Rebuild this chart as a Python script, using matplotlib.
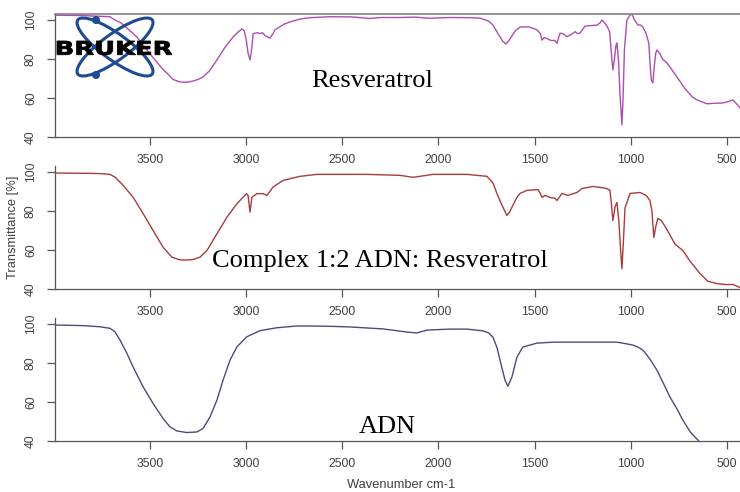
import matplotlib.pyplot as plt
from matplotlib.patches import Ellipse, Circle, PathPatch
from matplotlib.textpath import TextPath
from matplotlib.font_manager import FontProperties
from matplotlib.transforms import Affine2D

# FTIR spectra: wavenumber (cm-1) and transmittance (%)
resv_wn = [3994, 3850, 3708, 3682, 3650, 3620, 3568, 3516, 3474, 3440, 3412, 3380, 3344, 3310,
           3276, 3250, 3224, 3190, 3152, 3110, 3068, 3040, 3022, 3010, 3000, 2990, 2980, 2970,
           2964, 2940, 2928, 2915, 2902, 2876, 2860, 2850, 2800, 2772, 2720, 2668, 2564, 2450,
           2356, 2300, 2200, 2120, 2050, 1940, 1850, 1784, 1740, 1717, 1690, 1665, 1649, 1630,
           1600, 1576, 1530, 1488, 1470, 1462, 1450, 1436, 1420, 1410, 1395, 1384, 1368, 1350,
           1332, 1310, 1290, 1275, 1264, 1238, 1200, 1176, 1160, 1150, 1140, 1124, 1110, 1100,
           1093, 1085, 1077, 1072, 1064, 1056, 1046, 1040, 1033, 1020, 1005, 994, 980, 963,
           950, 937, 920, 906, 900, 893, 885, 877, 870, 864, 850, 835, 812, 790, 760, 720,
           680, 656, 630, 604, 560, 521, 490, 469, 450, 432]
resv_t = [102.5, 102.3, 101.7, 100.0, 98.5, 95.9, 91.3, 84.6, 79.5, 75.5, 72.8, 69.5, 68.2, 68.0,
          68.7, 69.5, 70.8, 74.0, 79.5, 86.0, 91.3, 94.0, 95.4, 94.5, 90.0, 83.0, 79.5, 86.0,
          93.0, 93.5, 93.0, 93.5, 92.0, 90.7, 93.0, 95.0, 98.0, 99.0, 100.5, 101.2, 101.7, 101.6,
          100.8, 101.3, 101.3, 101.5, 100.9, 101.3, 101.2, 101.0, 99.5, 97.5, 93.0, 89.0, 87.7, 90.0,
          94.5, 96.4, 96.5, 95.0, 93.0, 89.7, 91.0, 90.5, 89.7, 89.5, 89.5, 88.0, 93.3, 92.8,
          91.5, 92.5, 94.0, 93.0, 93.3, 96.9, 97.2, 97.4, 98.5, 100.0, 99.0, 96.9, 94.0, 82.0,
          74.4, 80.0, 87.0, 88.2, 80.0, 62.0, 46.2, 60.0, 85.0, 100.0, 102.5, 103.0, 100.0, 97.4,
          97.5, 96.4, 93.0, 88.0, 78.0, 69.0, 67.7, 77.0, 83.0, 84.6, 83.0, 80.0, 78.0, 75.0, 70.8, 65.0,
          60.5, 59.0, 58.0, 57.0, 57.3, 57.4, 58.2, 59.0, 57.0, 55.0]

cplx_wn = [3994, 3900, 3800, 3760, 3708, 3682, 3640, 3588, 3536, 3484, 3432, 3386, 3344, 3310,
           3276, 3240, 3204, 3152, 3100, 3048, 3016, 2998, 2990, 2980, 2970, 2944, 2912, 2892,
           2860, 2808, 2720, 2632, 2549, 2372, 2200, 2133, 2096, 2029, 1852, 1748, 1717, 1696,
           1670, 1644, 1630, 1613, 1592, 1576, 1540, 1483, 1470, 1462, 1446, 1420, 1394, 1384,
           1358, 1327, 1280, 1254, 1197, 1150, 1124, 1108, 1100, 1093, 1082, 1072, 1062, 1053,
           1046, 1038, 1030, 1004, 952, 920, 900, 890, 880, 870, 859, 840, 812, 770, 729, 690,
           640, 600, 552, 500, 469, 450, 432]
cplx_t = [99.5, 99.4, 99.3, 99.2, 98.8, 97.4, 93.2, 87.1, 78.7, 70.0, 61.4, 56.3, 54.9, 54.8,
          55.1, 56.3, 59.7, 68.3, 76.8, 83.7, 87.1, 88.9, 88.0, 79.4, 87.1, 88.9, 88.9, 88.0,
          92.3, 95.7, 97.8, 98.8, 98.8, 98.8, 98.3, 97.3, 97.8, 98.8, 98.8, 97.8, 94.5, 89.0,
          83.0, 77.7, 79.5, 82.9, 87.0, 89.0, 90.6, 91.0, 89.0, 87.0, 88.0, 87.0, 86.5, 85.4,
          89.0, 88.0, 89.5, 91.5, 92.6, 92.0, 91.5, 90.6, 83.0, 75.1, 82.0, 84.4, 75.0, 60.0,
          50.4, 65.0, 81.5, 89.0, 89.5, 88.0, 85.4, 80.0, 66.4, 72.0, 76.2, 75.0, 70.5, 63.0, 59.7, 54.0,
          47.9, 44.0, 42.7, 42.2, 42.3, 41.5, 40.7]

adn_wn = [3994, 3850, 3760, 3708, 3682, 3656, 3620, 3588, 3536, 3484, 3432, 3396, 3360, 3308,
          3256, 3224, 3188, 3152, 3120, 3084, 3048, 2996, 2928, 2840, 2736, 2668, 2550, 2460,
          2289, 2164, 2112, 2060, 1940, 1852, 1769, 1740, 1717, 1696, 1680, 1654, 1639, 1618,
          1592, 1561, 1488, 1400, 1072, 1020, 989, 960, 937, 900, 864, 830, 796, 760, 729,
          690, 640]
adn_t = [99.5, 99.2, 98.6, 97.8, 96.0, 91.8, 84.9, 78.0, 67.8, 59.2, 51.5, 47.2, 45.1, 44.3,
         44.6, 46.4, 52.3, 60.9, 71.2, 81.5, 88.3, 93.5, 96.6, 98.1, 99.0, 99.0, 98.8, 98.5,
         97.5, 95.9, 95.4, 96.9, 97.4, 97.4, 96.5, 95.5, 93.3, 88.0, 81.5, 71.2, 68.1, 72.8,
         83.0, 88.2, 90.2, 90.7, 90.7, 89.8, 89.2, 88.0, 86.6, 82.0, 76.3, 69.5, 62.5, 56.5, 50.6,
         44.5, 39.3]

spectra = [
    (resv_wn, resv_t, '#ad4db3', 'Resveratrol', 87),
    (cplx_wn, cplx_t, '#a83c3c', 'Complex 1:2 ADN: Resveratrol', 267),
    (adn_wn, adn_t, '#4c4c7c', 'ADN', 433),
]
label_x = [372, 380, 387]

W, H = 740, 492
fig = plt.figure(figsize=(W / 100, H / 100), dpi=100)

panel_tops = [14, 166, 318]
panel_h = 123.3

for i, (wn, t, col, name, base_y) in enumerate(spectra):
    top = panel_tops[i]
    ax = fig.add_axes([55 / W, 1 - (top + panel_h) / H, (W - 55) / W, panel_h / H])
    ax.plot(wn, t, color=col, lw=1.0)
    ax.set_xlim(3994, 432)
    ax.set_ylim(39.8, 103.1)
    ax.set_xticks([3500, 3000, 2500, 2000, 1500, 1000, 500])
    ax.set_yticks([40, 60, 80, 100])
    ax.tick_params(axis='both', direction='out', length=6, width=0.9, color='#555555',
                   labelsize=8.8, labelcolor='#404040')
    ax.tick_params(axis='x', pad=6)
    ax.tick_params(axis='y', pad=7)
    for lab in ax.get_yticklabels():
        lab.set_rotation(90)
        lab.set_va('center')
        lab.set_family('Liberation Sans')
    for lab in ax.get_xticklabels():
        lab.set_family('Liberation Sans')
    ax.spines['right'].set_visible(False)
    if i == 0:
        ax.spines['top'].set_color('#808080')
        ax.spines['top'].set_linewidth(1.2)
    else:
        ax.spines['top'].set_visible(False)
    for s in ('left', 'bottom'):
        ax.spines[s].set_color('#555555')
        ax.spines[s].set_linewidth(0.9)
    fig.text(label_x[i] / W, 1 - base_y / H, name, family='Liberation Serif', size=19,
             ha='center', va='baseline', color='black')

fig.text(401 / W, 1 - 485 / H, 'Wavenumber cm-1', ha='center', va='center',
         family='Liberation Sans', size=9.3, color='#404040')
fig.text(13 / W, 1 - 227 / H, 'Transmittance [%]', ha='center', va='center', rotation=90,
         family='Liberation Sans', size=9.3, color='#404040')

# Bruker logo (pixel units inside a small overlay axes)
lx0, ly0, lw_, lh_ = 55, 14, 122, 68
logo = fig.add_axes([lx0 / W, 1 - (ly0 + lh_) / H, lw_ / W, lh_ / H])
logo.set_xlim(0, lw_)
logo.set_ylim(lh_, 0)
logo.axis('off')
blue = '#1f4a94'
cx, cy = 115 - lx0, 47 - ly0
for ang in (36, -36):
    logo.add_patch(Ellipse((cx, cy), 92, 26, angle=ang, fill=False, ec=blue, lw=2.2))
for dy in (20, 75):
    logo.add_patch(Circle((96 - lx0, dy - ly0), 3.3, color=blue))
tp = TextPath((0, 0), 'BRUKER', size=10, prop=FontProperties(family='DejaVu Sans', weight='bold'))
ext = tp.get_extents()
sx = 115 / ext.width
sy = 14 / ext.height
tr = Affine2D().translate(-ext.x0, -ext.y0).scale(sx, -sy).translate(57 - lx0, 55 - ly0)
logo.add_patch(PathPatch(tr.transform_path(tp), fc='black', ec='black', lw=0.6))

fig.savefig('out.png', dpi=100)
